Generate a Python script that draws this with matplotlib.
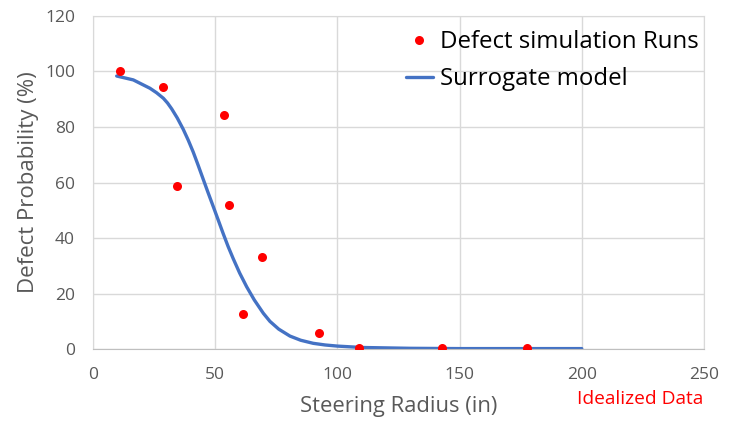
import matplotlib
matplotlib.use("Agg")
import matplotlib.pyplot as plt

# simulation runs
run_x = [11, 28.6, 34.4, 53.7, 55.5, 61.4, 69.3, 92.5, 108.8, 142.8, 177.6]
run_y = [100, 94.5, 58.7, 84.2, 52.0, 12.6, 33.1, 5.9, 0.5, 0.4, 0.4]

# surrogate model curve
model_x = [9.7, 16.5, 23.3, 26.0, 28.8, 30.5, 32.2, 34.5, 36.9, 39.0, 41.0,
           43.0, 45.1, 47.0, 49.2, 51.3, 53.3, 55.3, 57.4, 60.0, 62.9, 66.0,
           69.7, 72.4, 76.0, 80.6, 85.0, 90.1, 95.0, 100, 110, 130, 150, 200]
model_y = [98.3, 96.9, 93.9, 92.3, 90.3, 88.6, 86.5, 83.2, 79.2, 75.2, 71.0,
           66.3, 61.2, 56.6, 51.4, 46.4, 41.6, 37.0, 32.6, 27.5, 22.5, 17.8,
           13.0, 10.1, 7.3, 4.8, 3.3, 2.2, 1.6, 1.2, 0.7, 0.4, 0.3, 0.3]

plt.rcParams['font.family'] = ['Open Sans', 'DejaVu Sans']
grey = '#595959'

fig = plt.figure(figsize=(7.31, 4.21), dpi=100)
ax = fig.add_axes([0.1272, 0.170, 0.8358, 0.7928])

ax.plot(model_x, model_y, color='#4472C4', lw=2.4, label='Surrogate model',
        solid_joinstyle='round', solid_capstyle='round', zorder=2)
ax.plot(run_x, run_y, 'o', color='#FF0000', ms=6.5, mec='none',
        label='Defect simulation Runs', zorder=3)

ax.set_xlim(0, 250)
ax.set_ylim(0, 120)
ax.set_xticks(range(0, 251, 50))
ax.set_yticks(range(0, 121, 20))
ax.grid(True, color='#d9d9d9', lw=1)
ax.set_axisbelow(True)
for side in ['top', 'right', 'left']:
    ax.spines[side].set_color('#d9d9d9')
ax.spines['bottom'].set_color('#bfbfbf')
ax.tick_params(length=0, labelsize=12.5, colors=grey, pad=13)

ax.set_xlabel('Steering Radius (in)', fontsize=15.8, color=grey, labelpad=9)
ax.set_ylabel('Defect Probability (%)', fontsize=16, color=grey, labelpad=4)

h, l = ax.get_legend_handles_labels()
ax.legend(h[::-1], l[::-1], loc='upper right', frameon=False, fontsize=17.3,
          handlelength=1.1, handletextpad=0.3, borderaxespad=0.0,
          labelspacing=0.55, bbox_to_anchor=(1.007, 0.985))

fig.text(0.962, 0.052, 'Idealized Data', color='#FF0000', fontsize=13.8,
         ha='right', va='center')

fig.savefig('out.png', dpi=100)
